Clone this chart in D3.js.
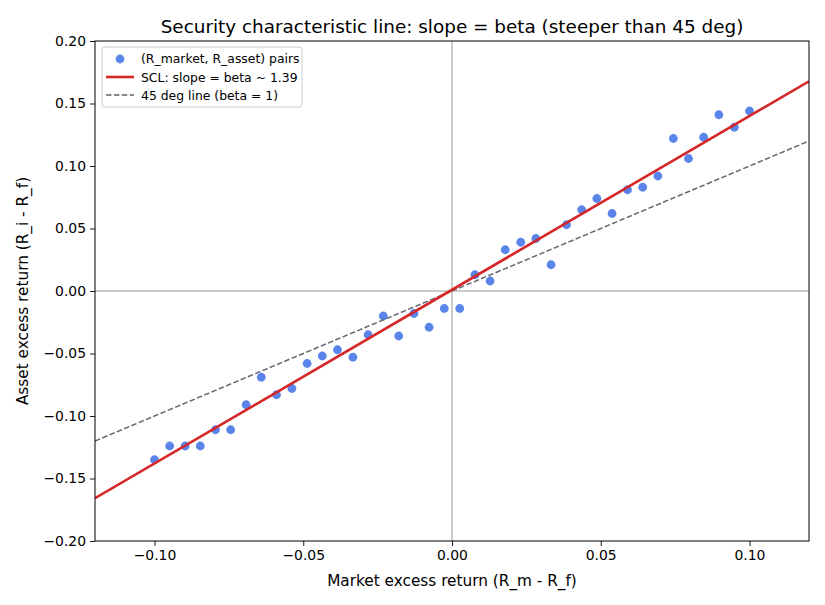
<!DOCTYPE html>
<html>
<head>
<meta charset="utf-8">
<script src="https://cdn.jsdelivr.net/npm/d3@7"></script>
<style>
  body { margin: 0; background: #fff; }
  svg { font-family: "DejaVu Sans", sans-serif; }
</style>
</head>
<body>
<div id="chart"></div>
<script>
// market excess returns (x) and asset excess returns (y)
var marketReturns = [
  -0.1000, -0.0949, -0.0897, -0.0846, -0.0795, -0.0744, -0.0692, -0.0641, -0.0590, -0.0538,
  -0.0487, -0.0436, -0.0385, -0.0333, -0.0282, -0.0231, -0.0179, -0.0128, -0.0077, -0.0026,
   0.0026,  0.0077,  0.0128,  0.0179,  0.0231,  0.0282,  0.0333,  0.0385,  0.0436,  0.0487,
   0.0538,  0.0590,  0.0641,  0.0692,  0.0744,  0.0795,  0.0846,  0.0897,  0.0949,  0.1000
];
var assetReturns = [
  -0.135, -0.124, -0.124, -0.124, -0.111, -0.111, -0.091, -0.069, -0.083, -0.078,
  -0.058, -0.052, -0.047, -0.053, -0.035, -0.020, -0.036, -0.018, -0.029, -0.014,
  -0.014,  0.013,  0.008,  0.033,  0.039,  0.042,  0.021,  0.053,  0.065,  0.074,
   0.062,  0.081,  0.083,  0.092,  0.122,  0.106,  0.123,  0.141,  0.131,  0.144
];
var beta = 1.39;
var alpha = 0.001;
var xTicks = [-0.10, -0.05, 0.00, 0.05, 0.10];
var yTicks = [-0.20, -0.15, -0.10, -0.05, 0.00, 0.05, 0.10, 0.15, 0.20];
var xDomain = [-0.12, 0.12];
var yDomain = [-0.20, 0.20];
var legendLabels = ["(R_market, R_asset) pairs", "SCL: slope = beta ~ 1.39", "45 deg line (beta = 1)"];

var W = 825, H = 605;
var margin = { top: 41, right: 16, bottom: 64, left: 95 };
var width = W - margin.left - margin.right;
var height = H - margin.top - margin.bottom;

var svg = d3.select("#chart").append("svg")
  .attr("width", W)
  .attr("height", H);

var g = svg.append("g")
  .attr("transform", `translate(${margin.left},${margin.top})`);

var x = d3.scaleLinear().domain(xDomain).range([0, width]);
var y = d3.scaleLinear().domain(yDomain).range([height, 0]);

var fmt = d => d3.format(".2f")(d).replace("-", "\u2212");

// zero reference lines
g.append("line")
  .attr("x1", 0).attr("x2", width)
  .attr("y1", y(0)).attr("y2", y(0))
  .attr("stroke", "#999").attr("stroke-width", 1);
g.append("line")
  .attr("x1", x(0)).attr("x2", x(0))
  .attr("y1", 0).attr("y2", height)
  .attr("stroke", "#999").attr("stroke-width", 1);

g.append("clipPath").attr("id", "clip")
  .append("rect").attr("width", width).attr("height", height);

var plot = g.append("g").attr("clip-path", "url(#clip)");

var points = marketReturns.map((m, i) => ({ m: m, a: assetReturns[i] }));

plot.selectAll("circle")
  .data(points)
  .enter()
  .append("circle")
  .attr("cx", d => x(d.m))
  .attr("cy", d => y(d.a))
  .attr("r", 4.4)
  .attr("fill", "#3d6ee6")
  .attr("fill-opacity", 0.85);

var line = d3.line().x(d => x(d[0])).y(d => y(d[1]));

// 45 deg line
plot.append("path")
  .datum(xDomain.map(v => [v, v]))
  .attr("d", line)
  .attr("fill", "none")
  .attr("stroke", "#666677")
  .attr("stroke-width", 1.5)
  .attr("stroke-dasharray", "5.5,2.4");

// SCL
plot.append("path")
  .datum(xDomain.map(v => [v, alpha + beta * v]))
  .attr("d", line)
  .attr("fill", "none")
  .attr("stroke", "#d62728")
  .attr("stroke-width", 2.6);

// axes
var xAxis = g.append("g")
  .attr("transform", `translate(0,${height})`)
  .call(d3.axisBottom(x).tickValues(xTicks).tickFormat(fmt).tickSizeOuter(0).tickSize(5).tickPadding(4));
var yAxis = g.append("g")
  .call(d3.axisLeft(y).tickValues(yTicks).tickFormat(fmt).tickSizeOuter(0).tickSize(5).tickPadding(4));
[xAxis, yAxis].forEach(a => {
  a.selectAll("text").attr("font-size", 13.9).attr("fill", "#000").attr("font-family", "DejaVu Sans");
  a.selectAll("line").attr("stroke", "#000").attr("stroke-width", 0.9);
  a.select(".domain").remove();
});

// frame
g.append("rect")
  .attr("width", width).attr("height", height)
  .attr("fill", "none").attr("stroke", "#000").attr("stroke-width", 1);

// labels
svg.append("text")
  .attr("x", margin.left + width / 2).attr("y", 33)
  .attr("text-anchor", "middle")
  .attr("font-size", 18.4)
  .text("Security characteristic line: slope = beta (steeper than 45 deg)");
svg.append("text")
  .attr("x", margin.left + width / 2).attr("y", 586)
  .attr("text-anchor", "middle")
  .attr("font-size", 15.3)
  .text("Market excess return (R_m - R_f)");
svg.append("text")
  .attr("transform", `translate(28,${margin.top + height / 2}) rotate(-90)`)
  .attr("text-anchor", "middle")
  .attr("font-size", 15.3)
  .text("Asset excess return (R_i - R_f)");

// legend
var lg = g.append("g").attr("transform", "translate(7,6)");
lg.append("rect")
  .attr("width", 200).attr("height", 60).attr("rx", 3)
  .attr("fill", "#fff").attr("fill-opacity", 0.8)
  .attr("stroke", "#ccc").attr("stroke-width", 1);
lg.append("circle")
  .attr("cx", 18).attr("cy", 12).attr("r", 4.4)
  .attr("fill", "#3d6ee6").attr("fill-opacity", 0.85);
lg.append("line")
  .attr("x1", 4).attr("x2", 32).attr("y1", 30).attr("y2", 30)
  .attr("stroke", "#d62728").attr("stroke-width", 2.6);
lg.append("line")
  .attr("x1", 4).attr("x2", 32).attr("y1", 48).attr("y2", 48)
  .attr("stroke", "#666677").attr("stroke-width", 1.5)
  .attr("stroke-dasharray", "5.5,2.4");
lg.selectAll("text.lab")
  .data(legendLabels)
  .enter()
  .append("text")
  .attr("class", "lab")
  .attr("x", 39)
  .attr("y", (d, i) => 16 + i * 18.5)
  .attr("font-size", 12.4)
  .text(d => d);
</script>
</body>
</html>
